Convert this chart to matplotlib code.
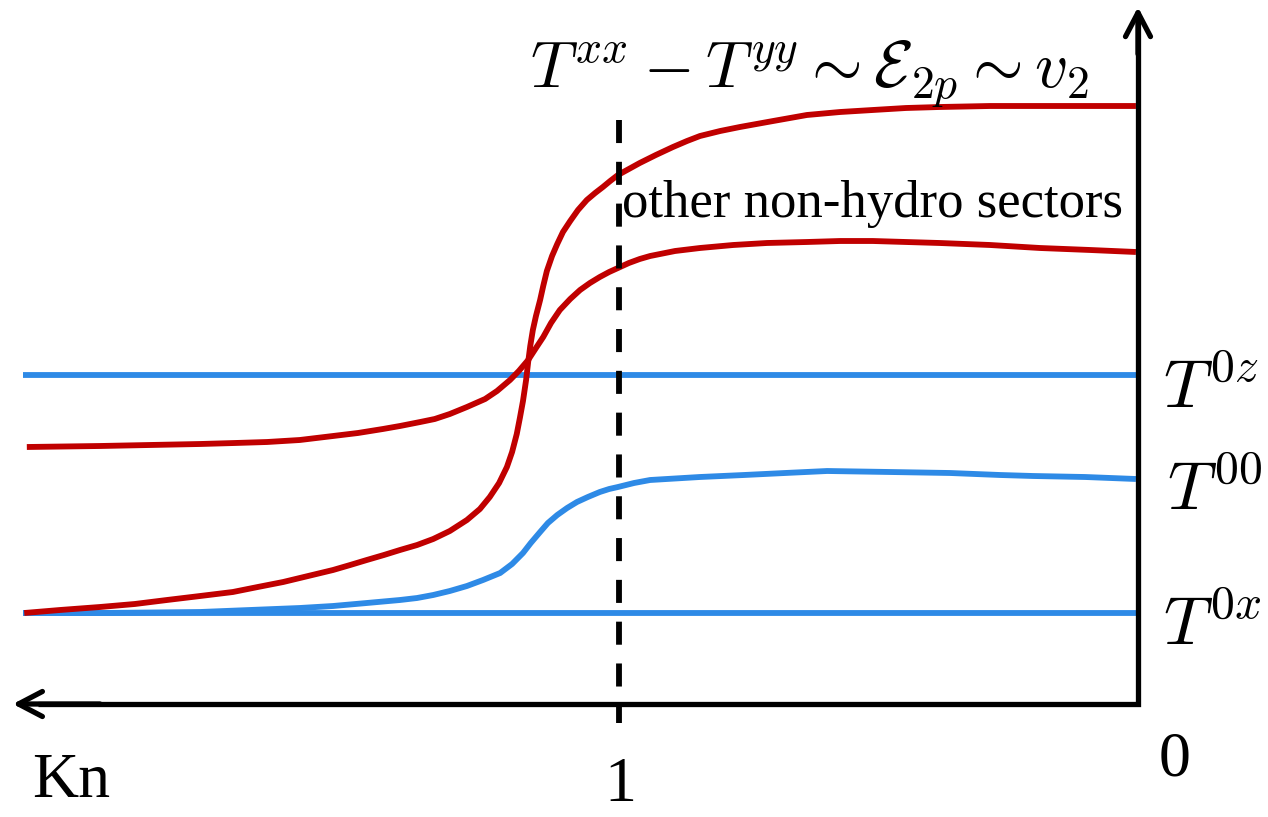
import numpy as np
import matplotlib
matplotlib.use("Agg")
import matplotlib.pyplot as plt

plt.rcParams['mathtext.fontset'] = 'cm'
plt.rcParams['lines.scale_dashes'] = False

# Kn axis runs to the left: 0 at the vertical axis, 1 at the dashed line
# T^{xx} - T^{yy} (steep red)
kn_a = [2.146, 2.077, 2.000, 1.933, 1.871, 1.807, 1.744, 1.696, 1.647, 1.599,
        1.551, 1.518, 1.486, 1.453, 1.422, 1.389, 1.358, 1.326, 1.293, 1.268,
        1.249, 1.231, 1.216, 1.206, 1.197, 1.191, 1.185, 1.179, 1.175, 1.171,
        1.166, 1.160, 1.152, 1.146, 1.139, 1.129, 1.119, 1.108, 1.094, 1.079,
        1.062, 1.046, 1.031, 1.017, 1.002, 0.981, 0.960, 0.929, 0.896, 0.869,
        0.844, 0.805, 0.767, 0.703, 0.638, 0.574, 0.511, 0.447, 0.382, 0.285,
        0.189, 0.004]
val_a = [0.91, 0.94, 0.97, 1.00, 1.04, 1.08, 1.12, 1.17, 1.22, 1.28,
         1.34, 1.39, 1.44, 1.49, 1.54, 1.59, 1.65, 1.73, 1.84, 1.95,
         2.07, 2.21, 2.37, 2.52, 2.70, 2.86, 3.03, 3.24, 3.42, 3.58,
         3.74, 3.88, 4.04, 4.18, 4.33, 4.48, 4.60, 4.72, 4.83, 4.94,
         5.04, 5.11, 5.17, 5.23, 5.29, 5.35, 5.41, 5.49, 5.57, 5.63,
         5.68, 5.73, 5.77, 5.83, 5.89, 5.92, 5.94, 5.96, 5.97, 5.98,
         5.98, 5.98]

# other non-hydro sectors (red)
kn_b = [2.141, 2.000, 1.904, 1.807, 1.740, 1.678, 1.615, 1.551, 1.503, 1.455,
        1.422, 1.383, 1.355, 1.326, 1.293, 1.258, 1.235, 1.210, 1.193, 1.175,
        1.160, 1.146, 1.131, 1.114, 1.094, 1.075, 1.056, 1.037, 1.019, 1.002,
        0.981, 0.960, 0.940, 0.892, 0.844, 0.780, 0.715, 0.638, 0.574, 0.511,
        0.447, 0.382, 0.285, 0.189, 0.092, 0.004]
val_b = [2.57, 2.58, 2.59, 2.60, 2.61, 2.62, 2.64, 2.68, 2.71, 2.75,
         2.78, 2.82, 2.85, 2.90, 2.97, 3.05, 3.13, 3.24, 3.33, 3.44,
         3.56, 3.67, 3.81, 3.94, 4.05, 4.14, 4.21, 4.27, 4.32, 4.36,
         4.41, 4.45, 4.48, 4.53, 4.56, 4.59, 4.61, 4.62, 4.63, 4.63,
         4.62, 4.61, 4.59, 4.56, 4.54, 4.52]

# T^{00} (blue)
kn_t00 = [2.148, 2.000, 1.807, 1.711, 1.615, 1.551, 1.486, 1.422, 1.389, 1.358,
          1.326, 1.293, 1.262, 1.229, 1.206, 1.185, 1.170, 1.152, 1.137, 1.119,
          1.100, 1.081, 1.060, 1.037, 1.019, 1.002, 0.971, 0.940, 0.844, 0.759,
          0.680, 0.599, 0.478, 0.362, 0.266, 0.202, 0.102, 0.004]
val_t00 = [0.91, 0.91, 0.92, 0.94, 0.96, 0.98, 1.01, 1.04, 1.06, 1.09,
           1.13, 1.18, 1.24, 1.31, 1.40, 1.51, 1.61, 1.72, 1.81, 1.89,
           1.96, 2.02, 2.07, 2.12, 2.15, 2.17, 2.21, 2.24, 2.27, 2.29,
           2.31, 2.33, 2.32, 2.31, 2.29, 2.28, 2.27, 2.25]

# T^{0z} and T^{0x} (flat blue)
kn_flat = [2.148, -0.004]
val_t0z = [3.29, 3.29]
val_t0x = [0.91, 0.91]

red = '#C00000'
blue = '#2E8AE6'
lw_curve = 4.2

fig = plt.figure(figsize=(12.68, 8.17), dpi=100)
ax = fig.add_axes([0, 0, 1, 1])
ax.set_xlim(2.1927, -0.2505)
ax.set_ylim(-1.13, 7.04)
ax.axis('off')

style = dict(lw=lw_curve, solid_capstyle='butt', solid_joinstyle='round')
ax.plot(kn_flat, val_t0z, color=blue, **style)
ax.plot(kn_flat, val_t0x, color=blue, **style)
ax.plot(kn_t00, val_t00, color=blue, **style)
ax.plot(kn_b, val_b, color=red, **style)
ax.plot(kn_a, val_a, color=red, **style)

# dashed line at Kn = 1
ax.plot([1.0, 1.0], [5.84, -0.19], color='black', lw=4.2, dashes=(16.6, 13.5))

# axes with arrows
ax.plot([2.12, 0, 0], [0, 0, 6.9], color='black', lw=3.8,
        solid_joinstyle='miter', solid_capstyle='butt')
arrow = dict(arrowstyle='->,head_length=0.86,head_width=0.45', lw=3.8,
             color='black', mutation_scale=20, shrinkA=0, shrinkB=0)
ax.annotate('', xy=(2.168, 0), xytext=(2.0, 0), arrowprops=arrow)
ax.annotate('', xy=(0, 6.97), xytext=(0, 6.5), arrowprops=arrow)

# labels
serif = 'Liberation Serif'
ax.text(1.1715, 6.16, r'$T^{xx} - T^{yy} \sim \mathcal{E}_{2p} \sim v_2$',
        fontsize=47, ha='left', va='baseline')
ax.text(0.994, 4.87, 'other non-hydro sectors', family=serif,
        fontsize=38, ha='left', va='baseline')
ax.text(-0.048, 2.96, r'$T^{0z}$', fontsize=49, ha='left', va='baseline')
ax.text(-0.056, 1.94, r'$T^{00}$', fontsize=49, ha='left', va='baseline')
ax.text(-0.048, 0.59, r'$T^{0x}$', fontsize=49, ha='left', va='baseline')
ax.text(2.131, -0.93, 'Kn', family=serif, fontsize=46, ha='left', va='baseline')
ax.text(0.998, -0.97, '1', family=serif, fontsize=46, ha='center', va='baseline')
ax.text(-0.071, -0.71, '0', family=serif, fontsize=46, ha='center', va='baseline')

fig.savefig('out.png', dpi=100)
